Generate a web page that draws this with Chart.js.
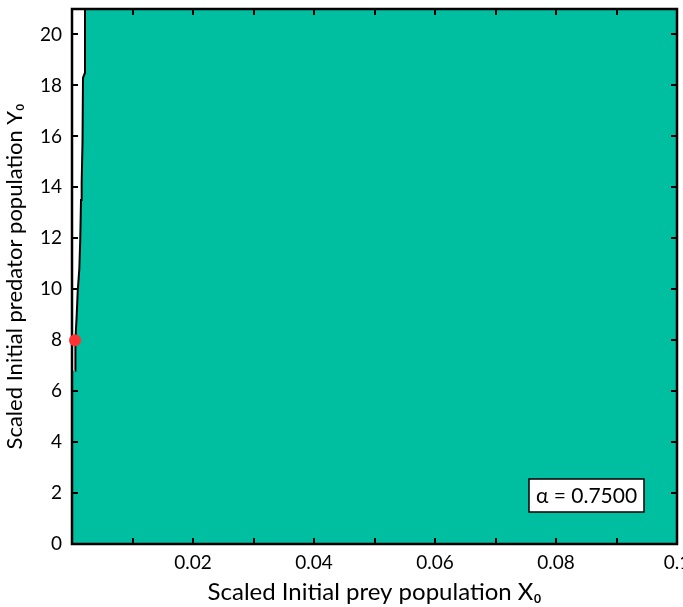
<!DOCTYPE html>
<html><head><meta charset="utf-8">
<script src="https://cdn.jsdelivr.net/npm/chart.js@4"></script>
<style>html,body{margin:0;padding:0;background:#fff}#wrap{width:683px;height:607px}</style>
</head><body><div id="wrap"><canvas id="c" width="683" height="607"></canvas></div>
<script>
// Boundary curve (predator Y0 vs prey X0) separating the white region from the teal region
const boundaryY = [6.8, 7.4, 8.0, 9.0, 9.9, 10.8, 11.9, 13.5, 14.2, 15.8, 18.3, 18.5, 21.0];
const boundaryX = [0.0005, 0.00055, 0.00058, 0.00078, 0.00094, 0.00121, 0.00136, 0.00149, 0.0016, 0.00174, 0.00182, 0.00215, 0.00215];
// Marked initial condition
const markerX = [0.0005];
const markerY = [8];
// Axis ranges and ticks
const xMin = 0, xMax = 0.1, yMin = 0, yMax = 21;
const xLabelTicks = [0.02, 0.04, 0.06, 0.08, 0.1];
const xMarkTicks = [0.01, 0.02, 0.03, 0.04, 0.05, 0.06, 0.07, 0.08, 0.09];
const yTicks = [0, 2, 4, 6, 8, 10, 12, 14, 16, 18, 20];
const alphaLabel = 'α = 0.7500';

const TEAL = '#00bfa0';
const FONT = 'Lato, "Open Sans", sans-serif';

const boundaryPts = boundaryY.map((y, i) => ({x: boundaryX[i], y}));
// white region: left axis edge plus the boundary curve, closed as a shape
const whiteRegion = [{x: xMin, y: boundaryY[boundaryY.length - 1]}, {x: xMin, y: boundaryY[0]}].concat(boundaryPts);

const framePlugin = {
  id: 'frame',
  beforeDatasetsDraw(chart) {
    const {ctx, chartArea: a} = chart;
    ctx.save();
    ctx.fillStyle = TEAL;
    ctx.fillRect(a.left, a.top, a.right - a.left, a.bottom - a.top);
    ctx.restore();
  },
  afterDatasetDraw(chart, args) {
    if (args.index !== 1) return;
    const {ctx, chartArea: a, scales} = chart;
    const xs = scales.x, ys = scales.y;
    ctx.save();
    ctx.strokeStyle = '#000';
    ctx.lineWidth = 2;
    const tl = 6;
    ctx.beginPath();
    xMarkTicks.forEach(v => {
      const px = Math.round(xs.getPixelForValue(v));
      ctx.moveTo(px, a.bottom); ctx.lineTo(px, a.bottom - tl);
      ctx.moveTo(px, a.top); ctx.lineTo(px, a.top + tl);
    });
    yTicks.forEach(v => {
      if (v === 0) return;
      const py = Math.round(ys.getPixelForValue(v));
      ctx.moveTo(a.left, py); ctx.lineTo(a.left + tl, py);
      ctx.moveTo(a.right, py); ctx.lineTo(a.right - tl, py);
    });
    ctx.stroke();
    ctx.lineWidth = 2.5;
    ctx.strokeRect(a.left, a.top, a.right - a.left, a.bottom - a.top);
    // alpha label box
    ctx.font = '21px ' + FONT;
    const w = 115, h = 33;
    const bx = a.right - 33 - w, by = a.bottom - 32 - h;
    ctx.fillStyle = '#fff';
    ctx.fillRect(bx, by, w, h);
    ctx.lineWidth = 1.5;
    ctx.strokeRect(bx, by, w, h);
    ctx.fillStyle = '#000';
    ctx.textAlign = 'center';
    ctx.textBaseline = 'middle';
    ctx.fillText(alphaLabel, bx + w / 2, by + h / 2 + 1);
    ctx.restore();
  }
};

new Chart(document.getElementById('c'), {
  type: 'scatter',
  data: {
    datasets: [
      {
        label: 'marker',
        data: markerX.map((x, i) => ({x, y: markerY[i]})),
        showLine: false,
        pointRadius: 6,
        pointBackgroundColor: '#ff3333',
        pointBorderWidth: 0,
        order: 0,
        clip: false
      },
      {
        label: 'boundary',
        data: boundaryPts,
        showLine: true,
        borderColor: '#000',
        borderWidth: 2,
        fill: false,
        pointRadius: 0,
        tension: 0,
        order: 1
      },
      {
        label: 'white region',
        data: whiteRegion,
        showLine: true,
        borderWidth: 0,
        borderColor: 'rgba(0,0,0,0)',
        backgroundColor: '#ffffff',
        fill: 'shape',
        pointRadius: 0,
        tension: 0,
        order: 2
      }
    ]
  },
  options: {
    responsive: false,
    animation: false,
    devicePixelRatio: 1,
    layout: {padding: {top: 9, right: 6, left: 0, bottom: 0}},
    plugins: {legend: {display: false}, tooltip: {enabled: false}},
    scales: {
      x: {
        type: 'linear', min: xMin, max: xMax,
        grid: {display: false, drawTicks: false, tickLength: 0}, border: {display: false},
        afterBuildTicks: s => { s.ticks = xLabelTicks.map(v => ({value: v})); },
        afterFit: s => { s.height = 63; s.paddingLeft = 0; s.paddingRight = 0; },
        ticks: {color: '#000', padding: 7, maxRotation: 0, autoSkip: false,
          font: {family: FONT, size: 19}, callback: v => String(+v.toFixed(2))},
        title: {display: true, text: 'Scaled Initial prey population X₀', color: '#000',
          font: {family: FONT, size: 24}, padding: {top: 0, bottom: 0}}
      },
      y: {
        type: 'linear', min: yMin, max: yMax,
        grid: {display: false, drawTicks: false, tickLength: 0}, border: {display: false},
        afterBuildTicks: s => { s.ticks = yTicks.map(v => ({value: v})); },
        afterFit: s => { s.width = 72; s.paddingTop = 0; s.paddingBottom = 0; },
        ticks: {color: '#000', padding: 10, autoSkip: false,
          font: {family: FONT, size: 19}},
        title: {display: true, text: 'Scaled Initial predator population Y₀', color: '#000',
          font: {family: FONT, size: 22}, padding: {top: 2, bottom: 0}}
      }
    }
  },
  plugins: [framePlugin]
});
</script>
</body></html>
